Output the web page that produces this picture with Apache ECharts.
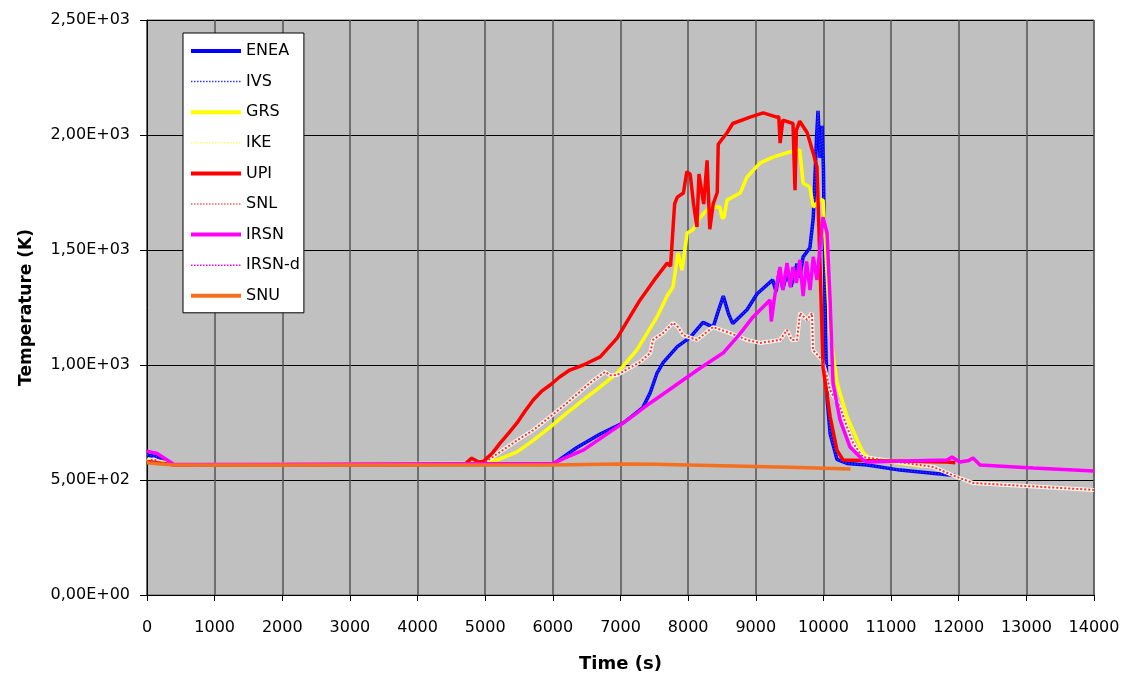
<!DOCTYPE html>
<html>
<head>
<meta charset="utf-8">
<script src="https://cdn.jsdelivr.net/npm/echarts@6/dist/echarts.min.js"></script>
<style>
  html, body { margin: 0; padding: 0; background: #fff; }
  #chart { width: 1127px; height: 682px; }
</style>
</head>
<body>
<div id="chart"></div>
<script>
// [time (s), temperature (K)]
var ENEA = [[0,610],[150,600],[400,565],[6000,568],[6350,640],[6700,700],[7050,750],[7330,815],[7440,880],[7540,965],[7630,1010],[7840,1080],[8030,1120],[8220,1185],[8370,1165],[8440,1230],[8520,1300],[8600,1220],[8660,1180],[8870,1240],[9020,1310],[9250,1370],[9300,1320],[9350,1410],[9400,1330],[9460,1400],[9520,1340],[9610,1440],[9650,1380],[9700,1470],[9800,1510],[9850,1640],[9900,2000],[9920,2105],[9950,1900],[9980,2040],[10000,1860],[10030,1140],[10055,850],[10100,700],[10200,590],[10350,572],[10650,565],[11130,543],[11950,520]];
var GRS = [[0,590],[300,575],[450,565],[4970,572],[5200,590],[5470,622],[5700,670],[5960,730],[6200,790],[6450,848],[6700,905],[6950,965],[7240,1065],[7540,1209],[7690,1300],[7776,1339],[7850,1487],[7910,1413],[7985,1574],[8070,1587],[8180,1643],[8320,1687],[8470,1687],[8500,1640],[8530,1640],[8575,1717],[8770,1748],[8870,1817],[9060,1878],[9255,1904],[9500,1926],[9650,1935],[9700,1790],[9800,1774],[9850,1687],[9950,1717],[9995,1717],[10100,1139],[10200,922],[10350,774],[10500,674],[10590,617],[10700,590],[11470,560]];
var UPI = [[0,580],[300,570],[400,565],[4700,568],[4800,595],[4900,578],[4970,580],[5100,615],[5220,660],[5350,705],[5470,748],[5590,800],[5710,848],[5830,885],[5960,913],[6100,948],[6250,978],[6450,1000],[6700,1035],[6950,1117],[7140,1210],[7290,1283],[7500,1370],[7690,1443],[7740,1430],[7800,1700],[7840,1730],[7930,1748],[7980,1840],[8030,1830],[8080,1700],[8130,1600],[8160,1830],[8230,1700],[8280,1890],[8320,1590],[8370,1700],[8430,1750],[8445,1960],[8575,2010],[8660,2050],[8915,2078],[9110,2096],[9310,2078],[9340,2080],[9360,1965],[9400,2065],[9550,2050],[9580,1760],[9600,2020],[9650,2060],[9760,2010],[9850,1920],[9905,1860],[9950,1430],[9995,990],[10100,775],[10200,630],[10290,587],[10590,585],[11830,578],[11950,575]];
var SNL = [[0,580],[100,590],[200,575],[400,565],[4970,572],[5220,622],[5460,670],[5710,717],[5960,775],[6210,835],[6550,922],[6770,970],[6850,955],[6950,957],[7290,1013],[7440,1052],[7480,1109],[7630,1139],[7776,1183],[7850,1165],[7925,1130],[8130,1109],[8368,1165],[8620,1139],[8870,1109],[9063,1096],[9358,1109],[9462,1152],[9530,1109],[9610,1109],[9654,1226],[9757,1196],[9831,1226],[9846,1065],[9979,1022],[10053,948],[10098,891],[10245,817],[10349,730],[10438,661],[10541,617],[10586,600],[11621,557],[11975,513],[12212,487],[14000,457]];
var IRSN = [[0,625],[150,615],[400,567],[6000,572],[6200,598],[6450,630],[6700,680],[6950,730],[7200,782],[7440,835],[7700,888],[7925,935],[8180,987],[8516,1052],[8750,1130],[8960,1209],[9211,1283],[9230,1190],[9255,1183],[9280,1300],[9358,1426],[9400,1326],[9462,1443],[9510,1339],[9550,1426],[9600,1357],[9650,1457],[9700,1300],[9750,1450],[9802,1326],[9850,1470],[9905,1370],[9950,1513],[9994,1643],[10053,1574],[10098,1283],[10142,922],[10245,761],[10393,643],[10586,587],[10645,578],[11827,587],[11900,600],[11950,590],[12019,578],[12150,585],[12212,596],[12315,565],[13100,552],[14000,539]];
var SNU = [[0,575],[200,570],[400,565],[6000,565],[7000,570],[7500,568],[8500,562],[9500,555],[10400,548]];
// dotted codes sit under their partners in the picture
var IVS = ENEA;
var IKE = SNL;
var IRSN_D = IRSN;

var xTicks = [0, 14000, 1000];
var yTicks = [0, 2500, 500];

function sci(v) {
  if (v === 0) return '0,00E+00';
  var e = Math.floor(Math.log10(v));
  var m = (v / Math.pow(10, e)).toFixed(2).replace('.', ',');
  return m + 'E+' + (e < 10 ? '0' + e : e);
}

var chart = echarts.init(document.getElementById('chart'));
var font = 'DejaVu Sans';

function line(name, data, color, width, type) {
  return {
    name: name,
    type: 'line',
    data: data,
    symbol: 'none',
    lineStyle: { color: color, width: width, type: type },
    itemStyle: { color: color }
  };
}

function legendItem(name, color, width, type) {
  return { name: name, lineStyle: { color: color, width: width, type: type } };
}

var option = {
  animation: false,
  textStyle: { fontFamily: font },
  grid: {
    left: 147, right: 33, top: 20, bottom: 87,
    show: true, backgroundColor: '#C0C0C0', borderColor: '#666', borderWidth: 1
  },
  legend: {
    orient: 'vertical',
    left: 183, top: 33,
    backgroundColor: '#fff',
    borderColor: '#000', borderWidth: 1,
    padding: [10, 4, 9, 6],
    itemWidth: 50, itemHeight: 14, itemGap: 14.6,
    itemStyle: { opacity: 0 },
    textStyle: { fontFamily: font, fontSize: 16, color: '#000' },
    data: [
      legendItem('ENEA', '#0000FF', 4, 'solid'),
      legendItem('IVS', '#3333FF', 1.5, 'dotted'),
      legendItem('GRS', '#FFFF00', 4, 'solid'),
      legendItem('IKE', '#FFFF66', 1.5, 'dotted'),
      legendItem('UPI', '#FF0000', 4, 'solid'),
      legendItem('SNL', '#FF6060', 1.5, 'dotted'),
      legendItem('IRSN', '#FF00FF', 4, 'solid'),
      legendItem('IRSN-d', '#FF00FF', 1.5, 'dotted'),
      legendItem('SNU', '#F5701E', 4, 'solid')
    ]
  },
  xAxis: {
    type: 'value',
    min: xTicks[0], max: xTicks[1], interval: xTicks[2],
    name: 'Time (s)',
    nameLocation: 'middle', nameGap: 60,
    nameTextStyle: { fontFamily: font, fontSize: 18, fontWeight: 'bold', color: '#000' },
    axisLine: { show: true, lineStyle: { color: '#000', width: 1 } },
    axisTick: { show: true, length: 6, lineStyle: { color: '#000' } },
    axisLabel: { fontFamily: font, fontSize: 16, color: '#000', margin: 25, formatter: function (v) { return String(v); } },
    splitLine: { show: true, lineStyle: { color: '#555', width: 1.5 } }
  },
  yAxis: {
    type: 'value',
    min: yTicks[0], max: yTicks[1], interval: yTicks[2],
    name: 'Temperature (K)',
    nameLocation: 'middle', nameGap: 112,
    nameTextStyle: { fontFamily: font, fontSize: 17, fontWeight: 'bold', color: '#000' },
    axisLine: { show: true, lineStyle: { color: '#000', width: 1 } },
    axisTick: { show: true, length: 7, lineStyle: { color: '#000' } },
    axisLabel: { fontFamily: font, fontSize: 16, color: '#000', margin: 17, formatter: sci },
    splitLine: { show: true, lineStyle: { color: '#000', width: 1 } }
  },
  series: [
    line('ENEA', ENEA, '#0000FF', 3.5, 'solid'),
    line('IVS', IVS, '#3333FF', 1.5, 'dotted'),
    line('GRS', GRS, '#FFFF00', 3.5, 'solid'),
    line('IKE', IKE, '#F6F6EE', 4, 'solid'),
    line('UPI', UPI, '#FF0000', 3.5, 'solid'),
    line('SNL', SNL, '#FF3030', 2, 'dotted'),
    line('IRSN', IRSN, '#FF00FF', 3.5, 'solid'),
    line('IRSN-d', IRSN_D, '#FF00FF', 1.5, 'dotted'),
    line('SNU', SNU, '#F5701E', 3.5, 'solid')
  ]
};

chart.setOption(option);
window.addEventListener('resize', function () { chart.resize(); });
</script>
</body>
</html>
